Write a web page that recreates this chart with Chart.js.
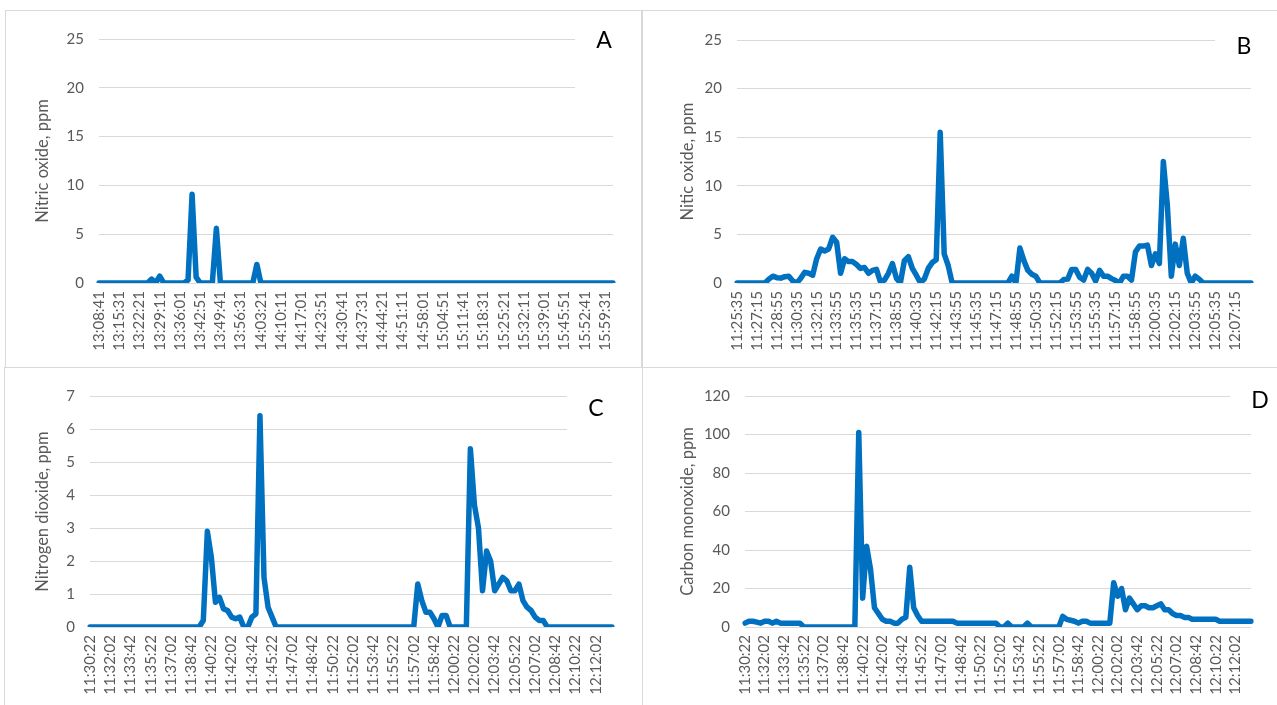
<!DOCTYPE html>
<html>
<head>
<meta charset="utf-8">
<title>Exhaust gas concentrations</title>
<script src="https://cdn.jsdelivr.net/npm/chart.js@4.4.0/dist/chart.umd.min.js"></script>
<style>
  body { margin: 0; background: #fff; width: 1277px; height: 705px; overflow: hidden; position: relative; }
  .frame { position: absolute; border: 1px solid #d9d9d9; box-sizing: border-box; }
  canvas { position: absolute; }
</style>
</head>
<body>
<div class="frame" style="left:5px;top:10px;width:637px;height:358px"></div>
<div class="frame" style="left:642px;top:10px;width:700px;height:358px"></div>
<div class="frame" style="left:4px;top:367px;width:639px;height:400px"></div>
<div class="frame" style="left:642px;top:367px;width:700px;height:400px"></div>

<canvas id="chartA" width="636" height="357" style="left:5px;top:10px"></canvas>
<canvas id="chartB" width="634" height="357" style="left:643px;top:10px"></canvas>
<canvas id="chartC" width="636" height="338" style="left:5px;top:367px"></canvas>
<canvas id="chartD" width="634" height="338" style="left:643px;top:367px"></canvas>

<script>
// Time labels printed under each x axis (one every 5 points of the series)
const ticksA = ['13:08:41', '13:15:31', '13:22:21', '13:29:11', '13:36:01', '13:42:51', '13:49:41', '13:56:31',
  '14:03:21', '14:10:11', '14:17:01', '14:23:51', '14:30:41', '14:37:31', '14:44:21', '14:51:11', '14:58:01',
  '15:04:51', '15:11:41', '15:18:31', '15:25:21', '15:32:11', '15:39:01', '15:45:51', '15:52:41', '15:59:31'];
const ticksB = ['11:25:35', '11:27:15', '11:28:55', '11:30:35', '11:32:15', '11:33:55', '11:35:35', '11:37:15',
  '11:38:55', '11:40:35', '11:42:15', '11:43:55', '11:45:35', '11:47:15', '11:48:55', '11:50:35', '11:52:15',
  '11:53:55', '11:55:35', '11:57:15', '11:58:55', '12:00:35', '12:02:15', '12:03:55', '12:05:35', '12:07:15'];
const ticksCD = ['11:30:22', '11:32:02', '11:33:42', '11:35:22', '11:37:02', '11:38:42', '11:40:22', '11:42:02',
  '11:43:42', '11:45:22', '11:47:02', '11:48:42', '11:50:22', '11:52:02', '11:53:42', '11:55:22', '11:57:02',
  '11:58:42', '12:00:22', '12:02:02', '12:03:42', '12:05:22', '12:07:02', '12:08:42', '12:10:22', '12:12:02'];

// A - nitric oxide, ppm
const nitricOxideA = [
  0, 0, 0, 0, 0, 0, 0, 0, 0, 0,
  0, 0, 0, 0.4, 0, 0.7, 0, 0, 0, 0,
  0, 0, 0.3, 9.1, 0.6, 0, 0, 0, 0, 5.6,
  0, 0, 0, 0, 0, 0, 0, 0, 0, 1.9,
  0, 0, 0, 0, 0, 0, 0, 0, 0, 0,
  0, 0, 0, 0, 0, 0, 0, 0, 0, 0,
  0, 0, 0, 0, 0, 0, 0, 0, 0, 0,
  0, 0, 0, 0, 0, 0, 0, 0, 0, 0,
  0, 0, 0, 0, 0, 0, 0, 0, 0, 0,
  0, 0, 0, 0, 0, 0, 0, 0, 0, 0,
  0, 0, 0, 0, 0, 0, 0, 0, 0, 0,
  0, 0, 0, 0, 0, 0, 0, 0, 0, 0,
  0, 0, 0, 0, 0, 0, 0, 0
];

// B - nitric oxide, ppm
const nitricOxideB = [
  0, 0, 0, 0, 0, 0, 0, 0, 0.4, 0.7,
  0.55, 0.5, 0.65, 0.7, 0.2, 0, 0.5, 1.1, 1.0, 0.8,
  2.5, 3.5, 3.3, 3.5, 4.7, 4.2, 1.0, 2.5, 2.2, 2.2,
  1.9, 1.5, 1.6, 1.0, 1.3, 1.4, 0.1, 0.3, 1.0, 2.0,
  0.5, 0, 2.3, 2.7, 1.5, 0.8, 0.05, 0.4, 1.5, 2.1,
  2.4, 15.5, 3.0, 1.8, 0, 0, 0, 0, 0, 0,
  0, 0, 0, 0, 0, 0, 0, 0, 0, 0.7,
  0, 3.6, 2.3, 1.3, 0.9, 0.7, 0, 0, 0, 0,
  0, 0, 0.35, 0.4, 1.4, 1.4, 0.6, 0.3, 1.4, 1.0,
  0.2, 1.3, 0.7, 0.7, 0.45, 0.25, 0, 0.7, 0.7, 0.3,
  3.2, 3.8, 3.8, 3.9, 1.8, 3.0, 2.0, 12.5, 8.0, 0.7,
  4.0, 1.8, 4.6, 1.0, 0, 0.7, 0.4, 0, 0, 0,
  0, 0, 0, 0, 0, 0, 0, 0, 0, 0
];

// C - nitrogen dioxide, ppm
const nitrogenDioxideC = [
  0, 0, 0, 0, 0, 0, 0, 0, 0, 0,
  0, 0, 0, 0, 0, 0, 0, 0, 0, 0,
  0, 0, 0, 0, 0, 0, 0, 0, 0.2, 2.9,
  2.1, 0.75, 0.9, 0.55, 0.5, 0.3, 0.25, 0.3, 0, 0,
  0.3, 0.4, 6.4, 1.5, 0.6, 0.3, 0, 0, 0, 0,
  0, 0, 0, 0, 0, 0, 0, 0, 0, 0,
  0, 0, 0, 0, 0, 0, 0, 0, 0, 0,
  0, 0, 0, 0, 0, 0, 0, 0, 0, 0,
  0, 1.3, 0.8, 0.45, 0.45, 0.25, 0, 0.35, 0.35, 0,
  0, 0, 0, 0, 5.4, 3.7, 3.0, 1.1, 2.3, 2.0,
  1.1, 1.3, 1.5, 1.4, 1.1, 1.1, 1.3, 0.8, 0.6, 0.5,
  0.3, 0.2, 0.2, 0, 0, 0, 0, 0, 0, 0,
  0, 0, 0, 0, 0, 0, 0, 0, 0, 0
];

// D - carbon monoxide, ppm
const carbonMonoxideD = [
  2, 3, 3, 2.5, 2, 3, 3, 2, 3, 2,
  2, 2, 2, 2, 2, 0, 0, 0, 0, 0,
  0, 0, 0, 0, 0, 0, 0, 0, 0, 101,
  15, 42, 30, 10, 7, 4, 3, 3, 2, 2,
  4, 5, 31, 10, 6, 3, 3, 3, 3, 3,
  3, 3, 3, 3, 2, 2, 2, 2, 2, 2,
  2, 2, 2, 2, 2, 0, 0, 2, 0, 0,
  0, 0, 2, 0, 0, 0, 0, 0, 0, 0,
  0, 5.5, 4, 3.5, 3, 2, 3, 3, 2, 2,
  2, 2, 2, 2, 23, 16, 20, 9, 15, 12,
  9, 11, 11, 10, 10, 11, 12, 9, 9, 7,
  6, 6, 5, 5, 4, 4, 4, 4, 4, 4,
  4, 3, 3, 3, 3, 3, 3, 3, 3, 3
];

const POINTS_PER_TICK = 5;

// one category per point, only every 5th one carries a printed time
function categoryLabels(tickLabels, count) {
  const labels = [];
  for (let i = 0; i < count; i++) {
    const t = i % POINTS_PER_TICK === 0 ? tickLabels[i / POINTS_PER_TICK] : '';
    labels.push(t || '');
  }
  return labels;
}

// panel letter in its white text box (the box hides the top gridlines like in Excel)
const panelLetter = {
  id: 'panelLetter',
  beforeDatasetsDraw(chart, args, opts) {
    const ctx = chart.ctx;
    ctx.save();
    ctx.fillStyle = '#ffffff';
    ctx.fillRect(opts.boxX, opts.boxY, opts.boxW, opts.boxH);
    ctx.fillStyle = '#000000';
    ctx.font = '23px Lato';
    ctx.textAlign = 'center';
    ctx.textBaseline = 'middle';
    ctx.fillText(opts.text, opts.x, opts.y);
    ctx.restore();
  }
};

Chart.defaults.font.family = 'Lato';

function drawPanel(canvasId, tickLabels, values, yMax, yStep, yTitle, frame) {
  new Chart(document.getElementById(canvasId), {
    type: 'line',
    data: {
      labels: categoryLabels(tickLabels, values.length),
      datasets: [{
        data: values,
        borderColor: '#0070c0',
        borderWidth: 5.5,
        borderJoinStyle: 'round',
        borderCapStyle: 'round',
        pointRadius: 0,
        tension: 0,
        fill: false
      }]
    },
    options: {
      responsive: false,
      animation: false,
      events: [],
      layout: { padding: { left: 0, top: frame.top, right: frame.right, bottom: 0 } },
      plugins: {
        legend: { display: false },
        tooltip: { enabled: false },
        panelLetter: frame.letter
      },
      scales: {
        x: {
          grid: { display: false, drawTicks: false },
          border: { display: false },
          ticks: {
            autoSkip: false,
            minRotation: 90,
            maxRotation: 90,
            padding: 8,
            color: '#595959',
            font: { size: 15 }
          },
          afterFit: function (scale) { scale.height = frame.xHeight; }
        },
        y: {
          min: 0,
          max: yMax,
          grid: { color: '#d9d9d9', drawTicks: false },
          border: { display: false },
          ticks: { stepSize: yStep, padding: 15, color: '#595959', font: { size: 15 } },
          title: {
            display: true,
            text: yTitle,
            color: '#595959',
            font: { size: 16.5 },
            padding: { top: frame.titlePad, bottom: 0 }
          },
          afterFit: function (scale) { scale.width = frame.left; }
        }
      }
    },
    plugins: [panelLetter]
  });
}

drawPanel('chartA', ticksA, nitricOxideA, 25, 5, 'Nitric oxide, ppm', {
  left: 94, top: 29, right: 28, xHeight: 84, titlePad: 28.1,
  letter: { text: 'A', x: 599, y: 31, boxX: 570, boxY: 15, boxW: 66, boxH: 85 }
});
drawPanel('chartB', ticksB, nitricOxideB, 25, 5, 'Nitic oxide, ppm', {
  left: 94, top: 30, right: 15, xHeight: 84, titlePad: 35.1,
  letter: { text: 'B', x: 601, y: 37, boxX: 572, boxY: 15, boxW: 62, boxH: 45 }
});
drawPanel('chartC', ticksCD, nitrogenDioxideC, 7, 1, 'Nitrogen dioxide, ppm', {
  left: 85, top: 29, right: 29, xHeight: 78, titlePad: 28.1,
  letter: { text: 'C', x: 591, y: 42, boxX: 562, boxY: 15, boxW: 74, boxH: 65 }
});
drawPanel('chartD', ticksCD, carbonMonoxideD, 120, 20, 'Carbon monoxide, ppm', {
  left: 102, top: 29, right: 15, xHeight: 78, titlePad: 35.1,
  letter: { text: 'D', x: 617, y: 34, boxX: 587, boxY: 15, boxW: 47, boxH: 40 }
});
</script>
</body>
</html>
